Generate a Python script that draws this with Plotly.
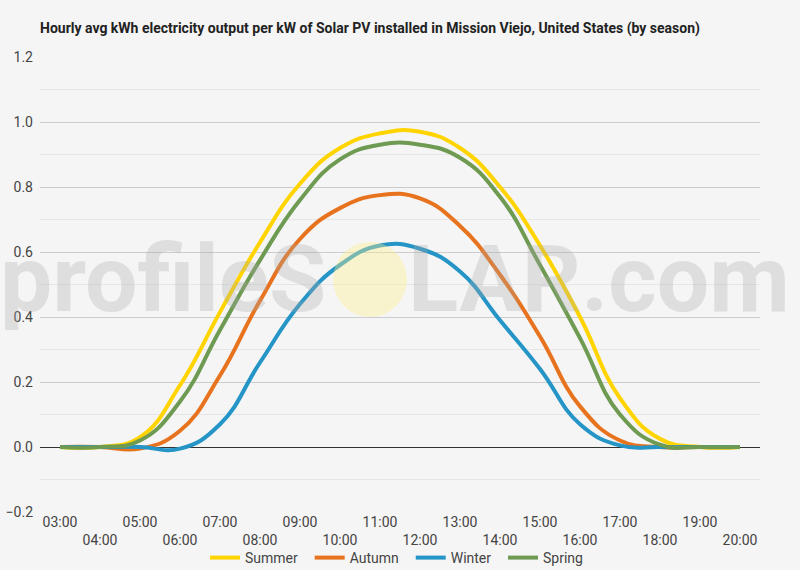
import plotly.graph_objects as go

# horas do dia (eixo x, categorias)
hours = ['03:00', '04:00', '05:00', '06:00', '07:00', '08:00', '09:00', '10:00', '11:00',
         '12:00', '13:00', '14:00', '15:00', '16:00', '17:00', '18:00', '19:00', '20:00']

# kWh medio por hora, por kW instalado
summer = [0.0, 0.0, 0.03, 0.19, 0.415, 0.63, 0.81, 0.92, 0.965, 0.97, 0.92, 0.80, 0.62, 0.40, 0.15, 0.025, 0.0, 0.0]
autumn = [0.0, 0.0, -0.005, 0.05, 0.22, 0.45, 0.64, 0.735, 0.775, 0.765, 0.68, 0.53, 0.34, 0.125, 0.02, 0.0, 0.0, 0.0]
winter = [0.0, 0.0, 0.0, -0.005, 0.07, 0.26, 0.44, 0.56, 0.62, 0.61, 0.54, 0.39, 0.24, 0.07, 0.005, 0.0, 0.0, 0.0]
spring = [0.0, 0.0, 0.02, 0.14, 0.36, 0.575, 0.76, 0.885, 0.93, 0.93, 0.89, 0.77, 0.56, 0.335, 0.10, 0.007, 0.0, 0.0]

series = [('Summer', summer, '#FFD400'),
          ('Autumn', autumn, '#E8731E'),
          ('Winter', winter, '#2495C6'),
          ('Spring', spring, '#6E9A52')]

# rotulos alternados em duas linhas (horas pares descem uma linha)
tick_text = [h if i % 2 == 0 else '<br>' + h for i, h in enumerate(hours)]

fig = go.Figure()
for name, vals, color in series:
    fig.add_trace(go.Scatter(x=hours, y=vals, name=name + '\u00a0\u00a0', mode='lines',
                             line={'color': color, 'width': 4, 'shape': 'spline', 'smoothing': 1.3}))

W, H = 800, 570
L, R, T, B = 40, 40, 57, 58

def px_x(px):
    return (px - L) / (W - L - R)

def px_y(py):
    return (H - B - py) / (H - T - B)

# marca d'agua profileSOLAR.com
wm_font = {'family': 'Roboto', 'size': 93, 'color': 'rgba(170,170,170,0.3)', 'weight': 'bold'}
fig.add_annotation(text='profileS', xref='paper', yref='paper', x=px_x(328), y=px_y(279),
                   xanchor='right', yanchor='middle', showarrow=False, font=wm_font)
fig.add_annotation(text='LAR.com', xref='paper', yref='paper', x=px_x(406), y=px_y(279),
                   xanchor='left', yanchor='middle', showarrow=False, font=wm_font)
fig.add_shape(type='circle', xref='paper', yref='paper',
              x0=px_x(333), x1=px_x(407), y0=px_y(242), y1=px_y(317),
              fillcolor='rgba(255,238,140,0.38)', line={'width': 0}, layer='above')

fig.update_layout(
    width=W, height=H,
    margin={'l': L, 'r': R, 't': T, 'b': B, 'autoexpand': False},
    paper_bgcolor='#F5F5F5', plot_bgcolor='#F5F5F5',
    font={'family': 'Roboto', 'size': 14, 'color': '#444'},
    title={'text': '<b>Hourly avg kWh electricity output per kW of Solar PV installed in Mission Viejo, United States (by season)</b>',
           'x': 40 / W, 'xanchor': 'left', 'y': 1 - 28 / H, 'yanchor': 'middle',
           'font': {'family': 'Roboto', 'size': 14, 'color': '#222'}},
    showlegend=True,
    legend={'orientation': 'h', 'x': 0.5, 'xanchor': 'center', 'xref': 'container',
            'y': 12 / H, 'yanchor': 'middle', 'yref': 'container',
            'font': {'size': 14, 'color': '#444'}, 'itemwidth': 30, 'bgcolor': 'rgba(0,0,0,0)'},
    xaxis={'type': 'category', 'tickmode': 'array', 'tickvals': hours, 'ticktext': tick_text,
           'showgrid': False, 'ticks': '', 'showline': False, 'range': [-0.5, 17.5],
           'automargin': False, 'tickfont': {'size': 14, 'color': '#444'}},
    yaxis={'range': [-0.2, 1.2], 'dtick': 0.2, 'tick0': 0, 'tickformat': '.1f',
           'gridcolor': '#CCCCCC', 'gridwidth': 1,
           'minor': {'dtick': 0.1, 'showgrid': True, 'gridcolor': '#E6E6E6'},
           'zeroline': True, 'zerolinecolor': '#333333', 'zerolinewidth': 1,
           'showline': False, 'ticks': '', 'ticklabelstandoff': 6, 'automargin': False,
           'tickfont': {'size': 14, 'color': '#444'}},
)

# tira a margem padrao do <body> para a figura ficar colada no canto
fig.write_html("out.html", config={'displayModeBar': False},
               post_script="document.body.style.margin='0';")
